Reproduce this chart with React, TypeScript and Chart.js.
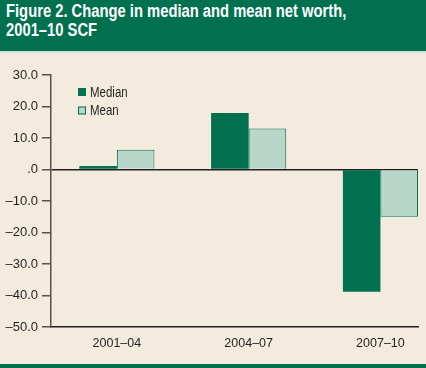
import React, { useEffect, useRef } from 'react';
import { Chart, registerables } from 'chart.js';

Chart.register(...registerables);

const titleLines = ['Figure 2. Change in median and mean net worth,', '2001–10 SCF'];
const categories = ['2001–04', '2004–07', '2007–10'];
const seriesNames = ['Median', 'Mean'];
const medianValues = [1.1, 17.9, -38.8];
const meanValues = [6.3, 13.0, -15.0];
const yTickValues = [30, 20, 10, 0, -10, -20, -30, -40, -50];

const DARK = '#00704f';
const LIGHT = '#b9d6cb';
const BG = '#f4ebdf';
const INK = '#231f20';
const AXIS = '#5b5048';
const FONT = "'Liberation Sans', Arial, Helvetica, sans-serif";
const CAT_PCT = 0.57;
const NARROW = 0.82;

const fmtY = (v: number) => {
  if (v === 0) return '.0';
  const s = Math.abs(v).toFixed(1);
  return v < 0 ? '–' + s : s;
};

const insideLegend = {
  id: 'insideLegend',
  afterDraw(chart: any) {
    const { ctx, chartArea } = chart;
    const x = chartArea.left + 27;
    const y0 = chartArea.top + 13;
    ctx.save();
    chart.data.datasets.forEach((ds: any, i: number) => {
      const y = y0 + i * 18.5;
      ctx.fillStyle = ds.backgroundColor;
      ctx.fillRect(x, y, 8, 8);
      if (ds.borderWidth) {
        ctx.strokeStyle = ds.borderColor;
        ctx.lineWidth = 1;
        ctx.strokeRect(x + 0.5, y + 0.5, 7, 7);
      }
      ctx.save();
      ctx.translate(x + 12, y + 8.5);
      ctx.scale(NARROW, 1);
      ctx.fillStyle = INK;
      ctx.font = '14px ' + FONT;
      ctx.textBaseline = 'alphabetic';
      ctx.textAlign = 'left';
      ctx.fillText(ds.label, 0, 0);
      ctx.restore();
    });
    ctx.restore();
  },
};

export default function App() {
  const ref = useRef<HTMLCanvasElement | null>(null);

  useEffect(() => {
    if (!ref.current) return;
    const chart = new Chart(ref.current, {
      type: 'bar',
      data: {
        datasets: [
          {
            label: seriesNames[0],
            data: categories.map((_, i) => ({ x: i, y: medianValues[i] })),
            backgroundColor: DARK,
            borderColor: DARK,
            borderWidth: 0,
          },
          {
            label: seriesNames[1],
            data: categories.map((_, i) => ({ x: i, y: meanValues[i] })),
            backgroundColor: LIGHT,
            borderColor: DARK,
            borderWidth: 1,
          },
        ],
      },
      options: {
        responsive: false,
        animation: false,
        layout: { padding: { left: 0, right: 8, top: 75, bottom: 21 } },
        datasets: { bar: { categoryPercentage: CAT_PCT, barPercentage: 1 } },
        plugins: {
          legend: { display: false },
          tooltip: { enabled: false },
          title: { display: false },
        },
        scales: {
          x: {
            type: 'linear',
            bounds: 'data',
            offset: false,
            min: -0.5,
            max: categories.length - 1 + CAT_PCT / 2,
            grid: { display: false, drawTicks: false, offset: false },
            border: { display: true, color: INK, width: 1.5 },
            afterBuildTicks: (s: any) => {
              s.ticks = categories.map((_, i) => ({ value: i }));
            },
            afterFit: (s: any) => {
              s.height = 20;
            },
            ticks: {
              callback: (v: any) => categories[v],
              color: INK,
              font: { family: FONT, size: 12.5 },
              padding: 9,
              autoSkip: false,
              maxRotation: 0,
            },
          },
          y: {
            min: -50,
            max: 30,
            bounds: 'data',
            afterBuildTicks: (s: any) => {
              s.ticks = yTickValues.map((v) => ({ value: v }));
            },
            afterFit: (s: any) => {
              s.width = 51;
            },
            grid: {
              color: (c: any) => (c.tick && c.tick.value === 0 ? INK : 'rgba(0,0,0,0)'),
              tickColor: AXIS,
              tickLength: 9,
              lineWidth: 1.5,
              drawOnChartArea: true,
            },
            border: { display: true, color: AXIS, width: 1.5 },
            ticks: {
              callback: (v: any) => fmtY(Number(v)),
              color: INK,
              font: { family: FONT, size: 13 },
              padding: 4,
            },
          },
        },
      },
      plugins: [insideLegend],
    } as any);
    return () => chart.destroy();
  }, []);

  return (
    <div style={{ position: 'absolute', left: 0, top: 0, width: 426, height: 368, background: BG, overflow: 'hidden' }}>
      <canvas ref={ref} width={426} height={368} style={{ position: 'absolute', left: 0, top: 0 }} />
      <div
        style={{
          position: 'absolute',
          left: 0,
          top: 0,
          width: 426,
          height: 51,
          background: DARK,
          borderBottom: '2px solid #d3e2d8',
          boxSizing: 'content-box',
        }}
      >
        <div
          style={{
            position: 'absolute',
            left: 6,
            top: 2,
            color: '#ffffff',
            fontFamily: FONT,
            fontWeight: 'bold',
            fontSize: 18,
            lineHeight: '18.5px',
            whiteSpace: 'pre',
            transform: `scaleX(${NARROW})`,
            transformOrigin: '0 0',
          }}
        >
          {titleLines.join('\n')}
        </div>
      </div>
      <div style={{ position: 'absolute', left: 0, top: 364, width: 426, height: 4, background: DARK }} />
    </div>
  );
}
